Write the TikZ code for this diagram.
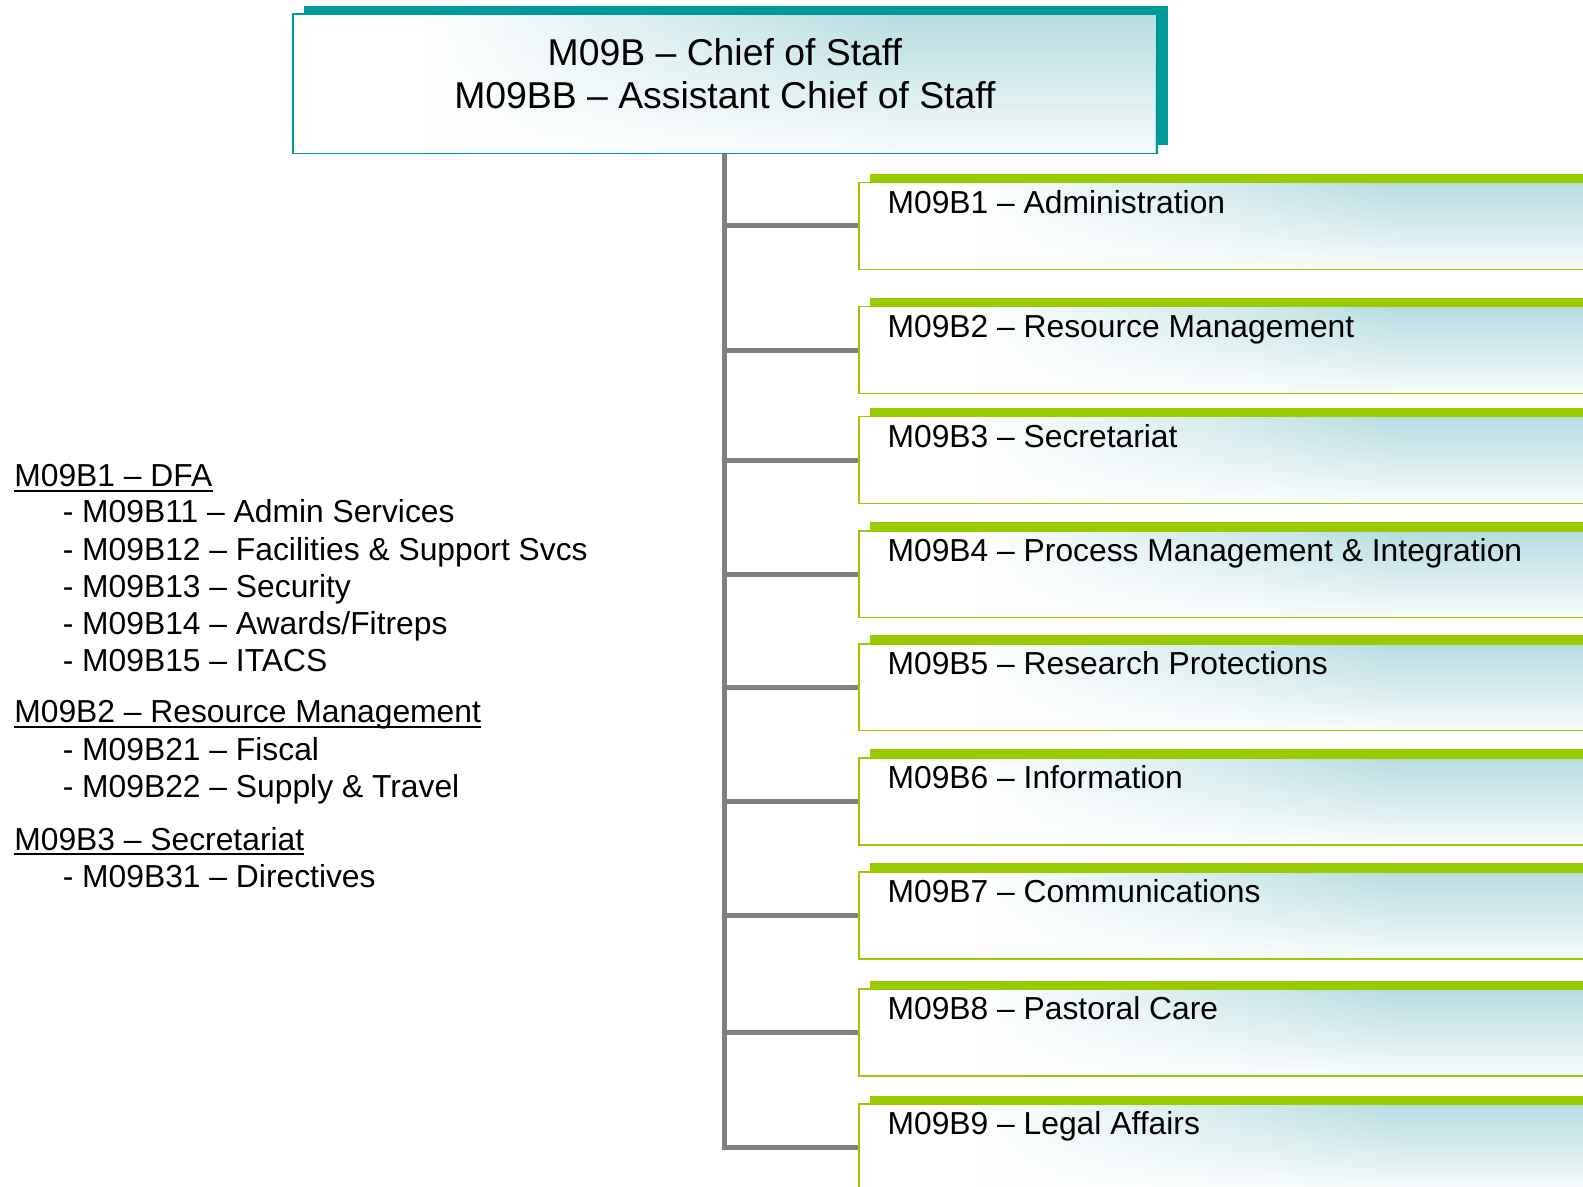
\documentclass[tikz,border=0pt]{standalone}
\usepackage{fontspec}
\setmainfont{Liberation Sans}
\usetikzlibrary{fadings}
\definecolor{tealD}{RGB}{0,153,153}
\definecolor{tealL}{RGB}{182,221,225}
\definecolor{greenB}{RGB}{153,204,0}
\definecolor{trunkgray}{RGB}{128,128,128}
\pgfdeclarehorizontalshading{boxshade}{100bp}{color(0bp)=(white); color(25bp)=(white); color(32bp)=(white); color(60bp)=(tealL); color(100bp)=(tealL)}
\tikzfading[name=bottomwhite, top color=transparent!100, middle color=transparent!92, bottom color=transparent!10]
\begin{document}
\begin{tikzpicture}[x=1pt,y=-1pt,
  gradbox/.style={line width=1.5pt, fill=white, inner sep=0pt,
    path picture={
      \shade[shading=boxshade] (path picture bounding box.south west) rectangle (path picture bounding box.north east);
      \fill[white, path fading=bottomwhite] (path picture bounding box.south west) rectangle (path picture bounding box.north east);
    }},
  topfront/.style={gradbox, draw=tealD, minimum width=856pt, minimum height=138pt},
  topshadow/.style={fill=tealD, inner sep=0pt, minimum width=856pt, minimum height=138pt},
  rfront/.style={gradbox, draw=greenB, anchor=north west, minimum width=760pt, minimum height=86pt},
  rshadow/.style={fill=greenB, inner sep=0pt, anchor=north west, minimum width=760pt, minimum height=86pt},
  toptext/.style={font=\fontsize{37}{43}\selectfont, align=center, inner sep=0pt},
  rtext/.style={font=\fontsize{31.5}{37}\selectfont, anchor=base west, inner sep=0pt},
  ltext/.style={font=\fontsize{31.5}{37}\selectfont, anchor=base west, inner sep=0pt},
  uline/.style={line width=2pt},
  trunkline/.style={draw=trunkgray, line width=5pt, line join=miter}
]
\useasboundingbox (0,0) rectangle (1568,1175);
\clip (0,0) rectangle (1568,1175);

% top box
\node[topshadow] (topsh) at (729,75) {};
\node[topfront] (top) at (718,83) {};
\node[toptext] (toptxt) at (718,73) {M09B – Chief of Staff\\M09BB – Assistant Chief of Staff};

% right boxes
\foreach \i/\t/\lab in {1/180/{M09B1 – Administration},
                         2/303/{M09B2 – Resource Management},
                         3/412/{M09B3 – Secretariat},
                         4/525/{M09B4 – Process Management \& Integration},
                         5/637/{M09B5 – Research Protections},
                         6/750/{M09B6 – Information},
                         7/863/{M09B7 – Communications},
                         8/979/{M09B8 – Pastoral Care},
                         9/1093/{M09B9 – Legal Affairs}}{
  \node[rshadow] (s\i) at (862,\t-8) {};
  \node[rfront] (b\i) at (850,\t) {};
  \node[rtext] (t\i) at (879,\t+31) {\lab};
}

% connectors
\foreach \i in {1,...,9}{
  \draw[trunkline] (top.south) |- (b\i.west);
}

% left list
\node[ltext] (h1) at (14,482) {M09B1 – DFA};
\node[ltext] (i11) at (62,518) {- M09B11 – Admin Services};
\node[ltext] (i12) at (62,555) {- M09B12 – Facilities \& Support Svcs};
\node[ltext] (i13) at (62,592) {- M09B13 – Security};
\node[ltext] (i14) at (62,628) {- M09B14 – Awards/Fitreps};
\node[ltext] (i15) at (62,665) {- M09B15 – ITACS};
\node[ltext] (h2) at (14,716) {M09B2 – Resource Management};
\node[ltext] (i21) at (62,753) {- M09B21 – Fiscal};
\node[ltext] (i22) at (62,790) {- M09B22 – Supply \& Travel};
\node[ltext] (h3) at (14,842) {M09B3 – Secretariat};
\node[ltext] (i31) at (62,879) {- M09B31 – Directives};

\draw[uline] ([yshift=-4pt]h1.base west) -- ([yshift=-4pt]h1.base east);
\draw[uline] ([yshift=-4pt]h2.base west) -- ([yshift=-4pt]h2.base east);
\draw[uline] ([yshift=-4pt]h3.base west) -- ([yshift=-4pt]h3.base east);
\end{tikzpicture}
\end{document}
